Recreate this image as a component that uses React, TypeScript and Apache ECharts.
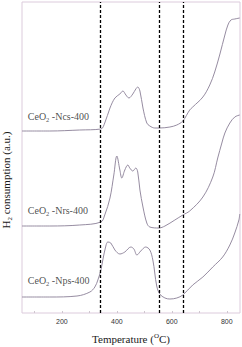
import { useEffect, useRef } from "react";
import * as echarts from "echarts";

// Temperatures (°C) and H2 consumption (a.u.)
const ncsT = [55, 156, 265, 342, 356, 375, 393, 411, 422, 433, 444, 458, 469, 476, 484, 495, 509, 520, 538, 556, 593, 618, 640, 665, 676, 713, 738, 756, 775, 793, 804, 815, 829, 847];
const ncsV = [182, 182, 183, 184, 190, 205, 215, 219, 222, 218, 215, 219, 224, 226, 222, 205, 190, 187, 185, 185, 186, 188, 192, 203, 206, 216, 228, 241, 259, 278, 288, 293, 294, 295];

const nrsT = [55, 156, 265, 342, 356, 375, 389, 400, 411, 418, 429, 440, 447, 458, 469, 476, 484, 495, 509, 520, 553, 575, 611, 640, 665, 713, 749, 767, 782, 793, 811, 829, 847];
const nrsV = [87, 87, 88, 91, 98, 115, 138, 157, 143, 135, 143, 148, 145, 142, 145, 141, 123, 106, 90, 86, 85, 87, 93, 98, 102, 116, 136, 155, 170, 180, 190, 196, 198];

const npsT = [55, 156, 255, 302, 320, 331, 342, 349, 360, 367, 378, 393, 411, 429, 451, 462, 473, 487, 505, 520, 531, 538, 545, 556, 575, 593, 618, 640, 676, 713, 749, 785, 811, 829, 844, 847];
const npsV = [16, 16, 17, 21, 26, 33, 43, 53, 67, 71, 70, 63, 59, 61, 66, 64, 58, 62, 66, 63, 53, 40, 27, 19, 15, 14, 15, 18, 28, 36, 46, 56, 68, 80, 93, 99];

const sampleNames = ["Ncs", "Nrs", "Nps"];
const sampleLabelT = [76, 76, 76];
const sampleLabelV = [197, 103, 33];

const dashedTemps = [340, 555, 640];
const tickLabels = [200, 400, 600, 800];
const minorTicks = [100, 200, 300, 400, 500, 600, 700, 800];

const zip = (t: number[], v: number[]) => t.map((x, i) => [x, v[i]]);

const curveColor = "#8a7f96";
const textColor = "#1a1a1a";

export default function App() {
  const ref = useRef<HTMLDivElement>(null);
  useEffect(() => {
    if (!ref.current) return;
    const chart = echarts.init(ref.current, null, { renderer: "svg" });
    const lineSeries = (name: string, t: number[], v: number[]) => ({
      name,
      type: "line",
      data: zip(t, v),
      smooth: 0.35,
      showSymbol: false,
      lineStyle: { color: curveColor, width: 0.9 },
      z: 3,
    });
    chart.setOption({
      animation: false,
      grid: {
        left: 22,
        right: 2,
        top: 2,
        bottom: 34,
        show: true,
        borderColor: "#dccbdc",
        borderWidth: 1,
        backgroundColor: "transparent",
      },
      xAxis: {
        type: "value",
        min: 55,
        max: 848,
        axisLine: { show: false },
        splitLine: { show: false },
        axisTick: {
          show: true,
          inside: true,
          length: 2,
          customValues: minorTicks,
          lineStyle: { color: "#cfc6cf" },
        },
        axisLabel: {
          customValues: tickLabels,
          fontSize: 7,
          color: "#333",
          fontFamily: "Liberation Sans",
          margin: 5,
        },
      },
      yAxis: {
        type: "value",
        min: 0,
        max: 311,
        show: false,
      },
      graphic: [
        {
          type: "text",
          x: 6,
          y: 180,
          rotation: Math.PI / 2,
          style: {
            text: "{n|H}{s|2}{n| consumption (a.u.)}",
            align: "center",
            verticalAlign: "middle",
            rich: {
              n: { fontSize: 11, fontFamily: "Liberation Serif", fill: textColor, lineHeight: 14 },
              s: { fontSize: 7, fontFamily: "Liberation Serif", fill: textColor, verticalAlign: "bottom", lineHeight: 14 },
            },
          },
        },
        {
          type: "text",
          x: 131,
          y: 339,
          style: {
            text: "{n|Temperature (}{sup|O}{n|C)}",
            align: "center",
            verticalAlign: "middle",
            rich: {
              n: { fontSize: 11, fontFamily: "Liberation Serif", fill: textColor, lineHeight: 14 },
              sup: { fontSize: 7, fontFamily: "Liberation Serif", fill: textColor, verticalAlign: "top", lineHeight: 14 },
            },
          },
        },
      ],
      series: [
        {
          ...lineSeries("CeO2-Ncs-400", ncsT, ncsV),
          markLine: {
            silent: true,
            symbol: "none",
            label: { show: false },
            lineStyle: { color: "#000", type: [3, 2], width: 1.3 },
            data: dashedTemps.map((t) => ({ xAxis: t })),
          },
        },
        lineSeries("CeO2-Nrs-400", nrsT, nrsV),
        lineSeries("CeO2-Nps-400", npsT, npsV),
        {
          type: "scatter",
          symbolSize: 0,
          data: sampleNames.map((n, i) => [sampleLabelT[i], sampleLabelV[i], n]),
          label: {
            show: true,
            position: "right",
            distance: 0,
            formatter: (p: any) => `{a|CeO}{s|2}{a| -${p.data[2]}-400}`,
            rich: {
              a: { fontSize: 10, fontFamily: "Liberation Serif", color: textColor, lineHeight: 13 },
              s: { fontSize: 6.5, fontFamily: "Liberation Serif", color: textColor, verticalAlign: "bottom", lineHeight: 13 },
            },
          },
          z: 4,
        },
      ],
    });
    return () => chart.dispose();
  }, []);
  return (
    <div
      ref={ref}
      style={{ position: "absolute", left: 0, top: 0, width: 242, height: 347, background: "#fff" }}
    />
  );
}
